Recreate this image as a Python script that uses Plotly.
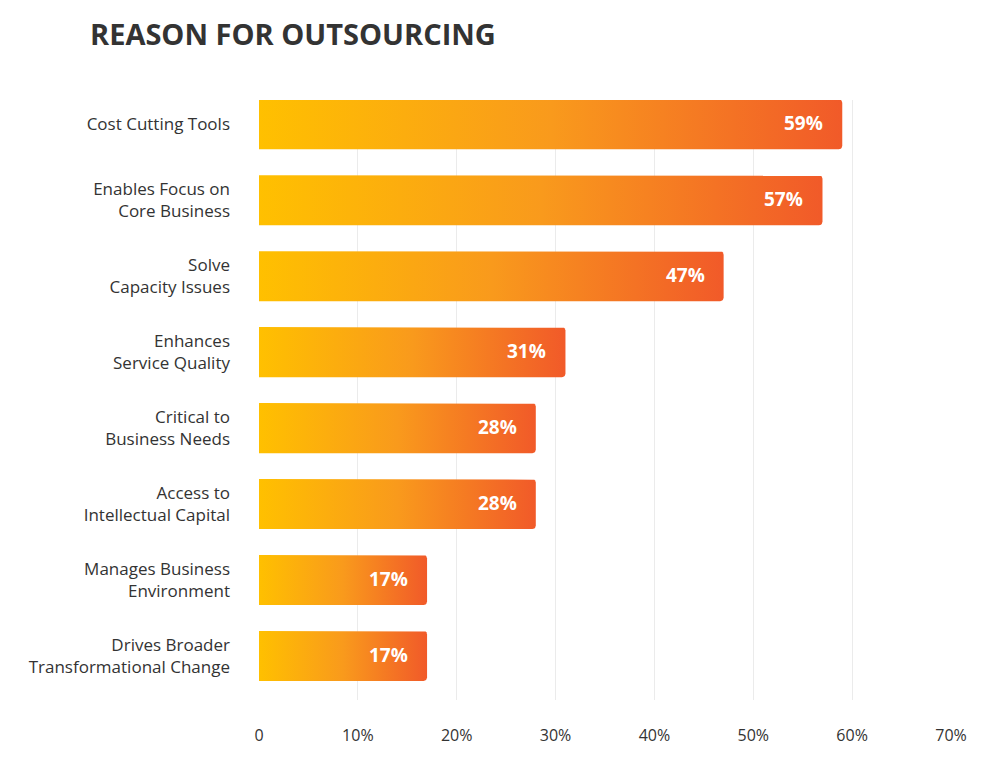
import numpy as np
import plotly.graph_objects as go

# 数据
reasons = [
    "Cost Cutting Tools",
    "Enables Focus on<br>Core Business",
    "Solve<br>Capacity Issues",
    "Enhances<br>Service Quality",
    "Critical to<br>Business Needs",
    "Access to<br>Intellectual Capital",
    "Manages Business<br>Environment",
    "Drives Broader<br>Transformational Change",
]
shares = [59, 57, 47, 31, 28, 28, 17, 17]
x_ticks = [0, 10, 20, 30, 40, 50, 60, 70]
x_ticktext = ["0", "10%", "20%", "30%", "40%", "50%", "60%", "70%"]

_TEXT = "#333333"
_GRID = "#ebebeb"
_FONT = "Open Sans, sans-serif"
_GRADIENT = [[0.0, "#FFC000"], [0.5, "#F99A1C"], [1.0, "#F15A29"]]

BAR_HALF = 0.33          # 类目单位
X_RANGE = [0, 70]
Y_RANGE = [7.58, -0.32]
PLOT_W, PLOT_H = 692, 600  # 像素，用来把圆角半径换算成数据单位


def _bar_outline(value, idx, r_px=3.5, n=6):
    """右侧两个角带小圆角的矩形轮廓。"""
    rx = r_px * (X_RANGE[1] - X_RANGE[0]) / PLOT_W
    ry = r_px * abs(Y_RANGE[0] - Y_RANGE[1]) / PLOT_H
    y0, y1 = idx - BAR_HALF, idx + BAR_HALF
    xs, ys = [0, value - rx], [y0, y0]
    t = np.linspace(-np.pi / 2, 0, n)
    xs += list(value - rx + rx * np.cos(t))
    ys += list(y0 + ry + ry * np.sin(t))
    t = np.linspace(0, np.pi / 2, n)
    xs += list(value - rx + rx * np.cos(t))
    ys += list(y1 - ry + ry * np.sin(t))
    xs += [0, 0]
    ys += [y1, y0]
    return xs, ys


fig = go.Figure()
for i, (label, v) in enumerate(zip(reasons, shares)):
    xs, ys = _bar_outline(v, i)
    fig.add_trace(
        go.Scatter(
            x=xs, y=ys, mode="lines", fill="toself",
            line=dict(width=0, color="rgba(0,0,0,0)"),
            fillgradient=dict(type="horizontal", colorscale=_GRADIENT),
            hoverinfo="skip", showlegend=False,
        )
    )
    fig.add_annotation(
        x=v, y=i, text=f"<b>{v}%</b>", showarrow=False,
        xanchor="right", xshift=-17, yshift=1,
        font=dict(color="white", size=19, family=_FONT),
    )

# 页面 body 自带 8px 边距，这里的边距已扣除
fig.update_layout(
    width=1001, height=760,
    margin=dict(l=251, r=58, t=92, b=68),
    paper_bgcolor="white", plot_bgcolor="white",
    font=dict(color=_TEXT, family=_FONT, size=17),
    title=dict(
        text="<b>REASON FOR OUTSOURCING</b>",
        x=82 / 1001, xanchor="left", y=1 - 27 / 760, yanchor="middle",
        font=dict(size=29, color=_TEXT, family=_FONT),
    ),
    showlegend=False,
    xaxis=dict(
        range=X_RANGE, tickvals=x_ticks, ticktext=x_ticktext,
        showgrid=True, gridcolor=_GRID, gridwidth=1,
        zeroline=False, showline=False, ticks="",
        ticklabelstandoff=24, tickfont=dict(size=16, color=_TEXT),
        fixedrange=True,
    ),
    yaxis=dict(
        range=Y_RANGE, tickvals=list(range(len(reasons))), ticktext=reasons,
        showgrid=False, zeroline=False, showline=False, ticks="",
        ticklabelstandoff=28, tickfont=dict(size=17, color=_TEXT),
        fixedrange=True,
    ),
)

fig.write_html("out.html", config={"displayModeBar": False})
